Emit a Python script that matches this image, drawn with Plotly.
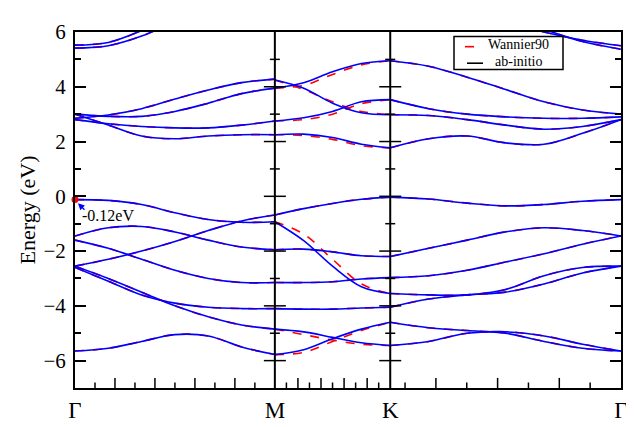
import plotly.graph_objects as go

# ---- high-symmetry path (cumulative |k|, hexagonal BZ) ----
k_labels = ["Γ", "M", "K", "Γ"]
k_nodes = [0.0, 0.5774, 0.9107, 1.5774]

# samples per segment (fraction of segment)
frac_GM = [0, 1/6, 2/6, 3/6, 4/6, 5/6, 1]
frac_MK = [0, 0.25, 0.5, 0.75, 1]
frac_KG = [0, 1/6, 2/6, 3/6, 4/6, 5/6, 1]

# ---- ab-initio bands (eV) ----
GM_bands = [
    [5.52, 5.62, 6.05, 6.6, 7.2, 7.8, 8.4],
    [5.41, 5.50, 5.85, 6.4, 7.0, 7.6, 8.2],
    [2.85, 2.97, 3.20, 3.55, 3.88, 4.15, 4.28],
    [3.00, 2.92, 2.92, 3.10, 3.40, 3.75, 3.95],
    [2.80, 2.65, 2.55, 2.50, 2.50, 2.60, 2.75],
    [3.00, 2.60, 2.20, 2.10, 2.20, 2.25, 2.25],
    [-0.12, -0.15, -0.30, -0.60, -0.85, -0.95, -0.93],
    [-2.55, -2.30, -2.00, -1.65, -1.25, -0.90, -0.68],
    [-1.45, -1.15, -1.10, -1.30, -1.60, -1.85, -1.95],
    [-1.60, -1.90, -2.30, -2.70, -3.00, -3.15, -3.15],
    [-2.60, -3.10, -3.60, -3.90, -4.05, -4.10, -4.10],
    [-2.55, -3.00, -3.50, -4.00, -4.40, -4.70, -4.85],
    [-5.65, -5.55, -5.30, -5.05, -5.10, -5.50, -5.78],
]
MK_bands = [
    [4.25, 3.95, 3.40, 3.05, 2.98],
    [3.95, 4.15, 4.55, 4.85, 4.95],
    [2.75, 2.87, 3.10, 3.45, 3.53],
    [2.25, 2.27, 2.15, 1.90, 1.77],
    [-0.68, -0.45, -0.26, -0.11, -0.03],
    [-0.93, -1.62, -2.55, -3.30, -3.55],
    [-1.95, -1.93, -2.03, -2.17, -2.20],
    [-3.15, -3.15, -3.12, -3.02, -2.97],
    [-4.10, -4.12, -4.12, -4.08, -4.05],
    [-4.85, -4.95, -5.15, -5.35, -5.45],
    [-5.78, -5.60, -5.20, -4.85, -4.60],
]
KG_bands = [
    [8.0, 7.4, 6.9, 6.4, 6.0, 5.7, 5.50],
    [8.2, 7.6, 7.1, 6.6, 6.1, 5.65, 5.37],
    [4.95, 4.75, 4.35, 3.90, 3.45, 3.15, 3.00],
    [3.53, 3.20, 3.00, 2.90, 2.85, 2.85, 2.90],
    [2.98, 2.95, 2.80, 2.60, 2.45, 2.55, 2.80],
    [1.77, 2.10, 2.20, 1.95, 1.90, 2.30, 2.80],
    [-0.03, -0.10, -0.25, -0.35, -0.30, -0.18, -0.12],
    [-2.20, -1.90, -1.60, -1.30, -1.15, -1.25, -1.45],
    [-2.97, -2.90, -2.70, -2.40, -2.10, -1.75, -1.45],
    [-3.55, -3.60, -3.60, -3.40, -2.90, -2.60, -2.55],
    [-4.05, -3.75, -3.60, -3.50, -3.20, -2.80, -2.55],
    [-4.60, -4.80, -4.90, -5.00, -5.30, -5.55, -5.65],
    [-5.45, -5.30, -5.00, -4.95, -5.10, -5.40, -5.65],
]

# ---- Wannier90 interpolated bands (eV) ----
GM_wannier = [list(b) for b in GM_bands]
MK_wannier = [
    [4.25, 3.90, 3.45, 3.10, 2.98],
    [3.95, 4.05, 4.45, 4.80, 4.95],
    [2.75, 2.80, 3.00, 3.38, 3.53],
    [2.25, 2.22, 2.08, 1.85, 1.77],
    [-0.68, -0.45, -0.26, -0.11, -0.03],
    [-0.93, -1.38, -2.30, -3.20, -3.55],
    [-1.95, -1.93, -2.03, -2.17, -2.20],
    [-3.15, -3.15, -3.12, -3.02, -2.97],
    [-4.10, -4.12, -4.12, -4.08, -4.05],
    [-4.85, -5.05, -5.25, -5.40, -5.45],
    [-5.78, -5.70, -5.30, -4.90, -4.60],
]
KG_wannier = [list(b) for b in KG_bands]

legend_names = ["Wannier90", "ab-initio"]
gap_label = "-0.12eV"
vbm = -0.12

SERIF = "Liberation Serif, Times New Roman, DejaVu Serif, serif"

segments = [
    (k_nodes[0], k_nodes[1], frac_GM, GM_bands, GM_wannier),
    (k_nodes[1], k_nodes[2], frac_MK, MK_bands, MK_wannier),
    (k_nodes[2], k_nodes[3], frac_KG, KG_bands, KG_wannier),
]

fig = go.Figure()
for k0, k1, fr, bands, wan in segments:
    xs = [k0 + f * (k1 - k0) for f in fr]
    for b in wan:
        fig.add_trace(go.Scatter(x=xs, y=b, mode="lines", showlegend=False,
                                 line=dict(color="red", width=1.6, dash="dash",
                                           shape="spline", smoothing=1.0),
                                 hoverinfo="skip"))
for k0, k1, fr, bands, wan in segments:
    xs = [k0 + f * (k1 - k0) for f in fr]
    for b in bands:
        fig.add_trace(go.Scatter(x=xs, y=b, mode="lines", showlegend=False,
                                 line=dict(color="blue", width=1.6,
                                           shape="spline", smoothing=1.0),
                                 hoverinfo="skip"))
fig.add_trace(go.Scatter(x=[k_nodes[0]], y=[vbm], mode="markers", showlegend=False,
                         marker=dict(color="red", size=7), cliponaxis=False))

ymin, ymax = -7, 6
PW, PH = 546.0, 388.0
pxk = (k_nodes[-1] - k_nodes[0]) / PW
pye = (ymax - ymin) / PH
shapes = []
for kv in k_nodes[1:3]:
    shapes.append(dict(type="line", x0=kv, x1=kv, y0=ymin, y1=ymax,
                       line=dict(color="black", width=2), layer="above"))
    for e in range(-6, 6):
        half = (11 if e % 2 == 0 else 5) * pxk
        shapes.append(dict(type="line", x0=kv - half, x1=kv + half, y0=e, y1=e,
                           line=dict(color="black", width=1.5), layer="above"))

def seg_ticks(k0, step, n):
    return [(k0 + j * step, j % 2 == 0) for j in range(1, n)]

bt = []
bt += seg_ticks(k_nodes[0], (k_nodes[1] - k_nodes[0]) / 10, 10)
bt += seg_ticks(k_nodes[1], (k_nodes[2] - k_nodes[1]) / 10, 10)
kg_step = 30.85 * pxk
j = 1
while k_nodes[3] - j * kg_step > k_nodes[2] + 0.005:
    bt.append((k_nodes[3] - j * kg_step, j % 2 == 0))
    j += 1
for kv, major in bt:
    ln = (11 if major else 6) * pye
    shapes.append(dict(type="line", x0=kv, x1=kv, y0=ymin, y1=ymin + ln,
                       line=dict(color="black", width=1.5), layer="above"))

def px(xp): return xp / PW
def py(yp): return 1 - yp / PH
L0, T0 = 379, 5
shapes.append(dict(type="rect", xref="paper", yref="paper",
                   x0=px(L0), x1=px(L0 + 109), y0=py(T0), y1=py(T0 + 36),
                   line=dict(color="black", width=1.5), fillcolor="white",
                   layer="above"))
shapes.append(dict(type="line", xref="paper", yref="paper",
                   x0=px(L0 + 11), x1=px(L0 + 29), y0=py(T0 + 11), y1=py(T0 + 11),
                   line=dict(color="red", width=1.6, dash="dash"), layer="above"))
shapes.append(dict(type="line", xref="paper", yref="paper",
                   x0=px(L0 + 13), x1=px(L0 + 29), y0=py(T0 + 29), y1=py(T0 + 29),
                   line=dict(color="black", width=1.6), layer="above"))

annotations = [
    dict(x=px(L0 + 33), y=py(T0 + 18), xref="paper", yref="paper",
         text=legend_names[0], showarrow=False, xanchor="left", yanchor="bottom",
         font=dict(size=14, family=SERIF, color="black"), borderpad=0),
    dict(x=px(L0 + 40), y=py(T0 + 18), xref="paper", yref="paper",
         text=legend_names[1], showarrow=False, xanchor="left", yanchor="top",
         font=dict(size=14, family=SERIF, color="black"), borderpad=0),
    dict(x=k_nodes[0] + 3 * pxk, y=vbm - 4 * pye, ax=8, ay=8,
         xref="x", yref="y", axref="pixel", ayref="pixel", text="",
         showarrow=True, arrowhead=2, arrowsize=1, arrowwidth=1.3,
         arrowcolor="blue"),
    dict(x=k_nodes[0] + 5 * pxk, y=vbm - 17 * pye, xref="x", yref="y",
         text=gap_label, showarrow=False, xanchor="left", yanchor="middle",
         font=dict(size=16, family=SERIF, color="black")),
]

fig.update_layout(
    width=634, height=427,
    margin=dict(l=67, r=21, t=15, b=24),
    plot_bgcolor="white", paper_bgcolor="white",
    font=dict(family=SERIF, color="black"),
    shapes=shapes, annotations=annotations,
    showlegend=False,
)
fig.update_xaxes(range=[k_nodes[0], k_nodes[3]], tickvals=k_nodes, ticktext=k_labels,
                 ticks="", showgrid=False, zeroline=False, showline=True,
                 linecolor="black", linewidth=2, mirror=True,
                 tickfont=dict(size=23, family=SERIF))
fig.update_yaxes(range=[ymin, ymax], tickvals=[-6, -4, -2, 0, 2, 4, 6],
                 ticks="inside", ticklen=11, tickwidth=2, tickcolor="black",
                 minor=dict(tickvals=[-5, -3, -1, 1, 3, 5], ticks="inside",
                            ticklen=6, tickwidth=2, tickcolor="black"),
                 showgrid=False, zeroline=False, showline=True,
                 linecolor="black", linewidth=2, mirror="ticks",
                 ticklabelstandoff=3,
                 tickfont=dict(size=21, family=SERIF),
                 title=dict(text="Energy (eV)", font=dict(size=22, family=SERIF),
                            standoff=2))
fig.write_html("out.html")
